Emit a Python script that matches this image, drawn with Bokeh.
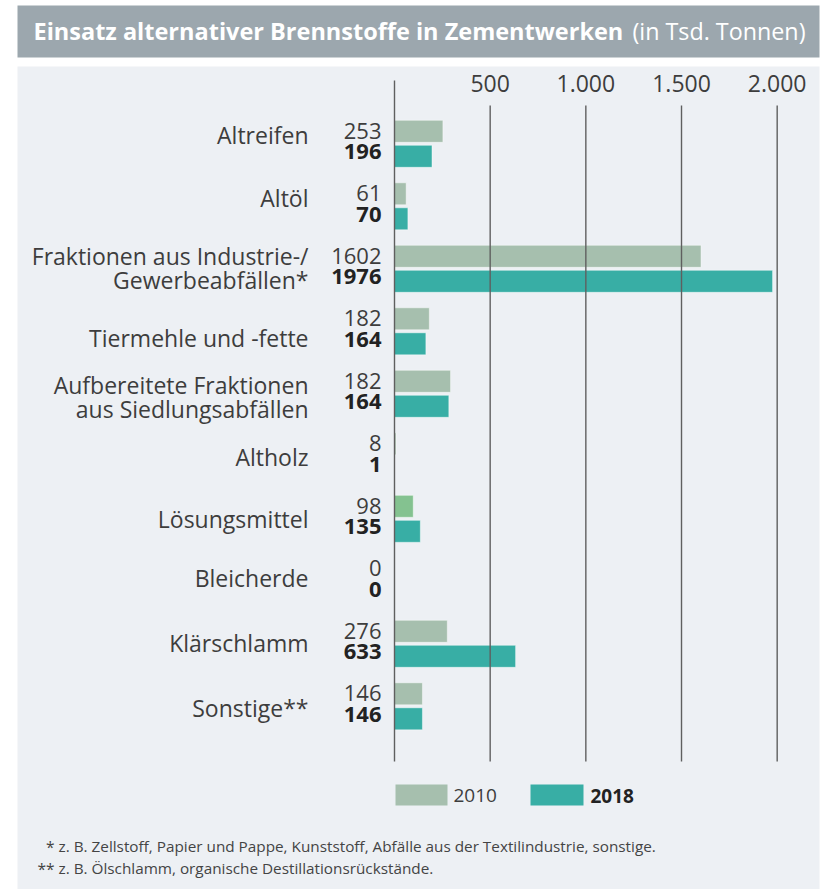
from bokeh.plotting import figure
from bokeh.models import Range1d
from bokeh.core.properties import value
from bokeh.embed import file_html
from bokeh.resources import INLINE

# ---------------- data ----------------
categories = [
    "Altreifen",
    "Altöl",
    "Fraktionen aus Industrie-/\nGewerbeabfällen*",
    "Tiermehle und -fette",
    "Aufbereitete Fraktionen\naus Siedlungsabfällen",
    "Altholz",
    "Lösungsmittel",
    "Bleicherde",
    "Klärschlamm",
    "Sonstige**",
]
values_2010 = [253, 61, 1602, 182, 293, 8, 98, 0, 276, 146]
values_2018 = [196, 70, 1976, 164, 284, 1, 135, 0, 633, 146]
labels_2010 = ["253", "61", "1602", "182", "182", "8", "98", "0", "276", "146"]
labels_2018 = ["196", "70", "1976", "164", "164", "1", "135", "0", "633", "146"]
ticks = [500, 1000, 1500, 2000]
tick_labels = ["500", "1.000", "1.500", "2.000"]
series_names = ["2010", "2018"]
title_bold = "Einsatz alternativer Brennstoffe in Zementwerken"
title_normal = "(in Tsd. Tonnen)"
footnote_marks = ["*", "**"]
footnotes = [
    "z. B. Zellstoff, Papier und Pappe, Kunststoff, Abfälle aus der Textilindustrie, sonstige.",
    "z. B. Ölschlamm, organische Destillationsrückstände.",
]

# ---------------- styles ----------------
C_2010 = "#a6bfae"
C_2010_ALT = "#84c290"
C_2018 = "#38aea5"
colors_2010 = [C_2010_ALT if c == "Lösungsmittel" else C_2010 for c in categories]
label_shift_px = [-9, -8, -1, 7, 3, 1, 0, -3, -1, 2]
HEADER = "#9ca7ae"
PANEL = "#edf0f4"
TEXT = "#3d3d3d"
GRID = "#5f5f5f"
FONT = "Open Sans"

W, H = 835, 889
X0, SX = 394.0, 95.67 / 500.0     # canvas px of value 0, px per unit
Y0, SY = 143.3, 62.5              # canvas px of first category centre, px per category


def px(cx):
    return (cx - X0) / SX


def py(cy):
    return (cy - Y0) / SY


p = figure(width=W, height=H, output_backend="svg", toolbar_location=None,
           x_axis_location=None, y_axis_location=None,
           x_range=Range1d(px(0), px(W)), y_range=Range1d(py(H), py(0)),
           min_border=0, tools="")
p.outline_line_color = None
p.grid.visible = False
p.background_fill_color = "white"
p.border_fill_color = "white"

# header and panel
p.quad(left=[px(17)], right=[px(819)], top=[py(5)], bottom=[py(57)],
       fill_color=HEADER, line_color=None)
p.quad(left=[px(17)], right=[px(819)], top=[py(66)], bottom=[py(H)],
       fill_color=PANEL, line_color=None)

p.text(x=[px(33)], y=[py(30)], text=[title_bold], text_font=value(FONT),
       text_font_style="bold", text_font_size="23.5px", text_color="white",
       text_align="left", text_baseline="middle")
p.text(x=[px(805)], y=[py(30)], text=[title_normal], text_font=value(FONT),
       text_font_size="23.3px", text_color="white",
       text_align="right", text_baseline="middle")

n = len(categories)
idx = list(range(n))
BAR_H = 22 / SY
OFF = 12.5 / SY

# bars
p.hbar(y=[i - OFF for i in idx], left=0, right=values_2010, height=BAR_H,
       fill_color=colors_2010, line_color="white", line_alpha=0.45, line_width=1)
p.hbar(y=[i + OFF for i in idx], left=0, right=values_2018, height=BAR_H,
       fill_color=C_2018, line_color="white", line_alpha=0.45, line_width=1)

# grid lines
p.segment(x0=[0], x1=[0], y0=[py(80)], y1=[py(761)], line_color=GRID, line_width=1.4)
p.segment(x0=ticks, x1=ticks, y0=[py(105)] * len(ticks), y1=[py(761)] * len(ticks),
          line_color=GRID, line_width=1.4)
p.text(x=ticks, y=[py(83)] * len(ticks), text=tick_labels, text_font=value(FONT),
       text_font_size="23px", text_color=TEXT, text_align="center",
       text_baseline="middle")

# category labels (multi-line labels split into separate lines, 24 px apart)
LINE_PX = 24
lab_x, lab_y, lab_t = [], [], []
for i, (c, s) in enumerate(zip(categories, label_shift_px)):
    lines = c.split("\n")
    k = len(lines)
    for j, line in enumerate(lines):
        lab_x.append(px(308))
        lab_y.append(i + (s + (j - (k - 1) / 2) * LINE_PX) / SY)
        lab_t.append(line)
p.text(x=lab_x, y=lab_y, text=lab_t, text_font=value(FONT), text_font_size="23px",
       text_color=TEXT, text_align="right", text_baseline="middle")

# value labels
p.text(x=[px(381)] * n, y=[i - 13 / SY for i in idx], text=labels_2010,
       text_font=value(FONT), text_font_size="22px", text_color=TEXT,
       text_align="right", text_baseline="middle")
p.text(x=[px(381)] * n, y=[i + 8 / SY for i in idx], text=labels_2018,
       text_font=value(FONT), text_font_size="22px", text_font_style="bold",
       text_color="#222222", text_align="right", text_baseline="middle")

# legend
p.quad(left=[px(395), px(530)], right=[px(447), px(583)],
       top=[py(784), py(784)], bottom=[py(805), py(805)],
       fill_color=[C_2010, C_2018], line_color=None)
p.text(x=[px(453)], y=[py(795)], text=[series_names[0]], text_font=value(FONT),
       text_font_size="19px", text_color=TEXT, text_align="left",
       text_baseline="middle")
p.text(x=[px(590)], y=[py(795)], text=[series_names[1]], text_font=value(FONT),
       text_font_size="19px", text_font_style="bold", text_color="#222222",
       text_align="left", text_baseline="middle")

# footnotes
p.text(x=[px(54)] * 2, y=[py(846), py(868)], text=footnote_marks,
       text_font=value(FONT), text_font_size="15.5px", text_color="#444444",
       text_align="right", text_baseline="middle")
p.text(x=[px(58)] * 2, y=[py(845), py(867)], text=footnotes,
       text_font=value(FONT), text_font_size="15.3px", text_color="#444444",
       text_align="left", text_baseline="middle")

open("out.html", "w").write(file_html(p, INLINE))
